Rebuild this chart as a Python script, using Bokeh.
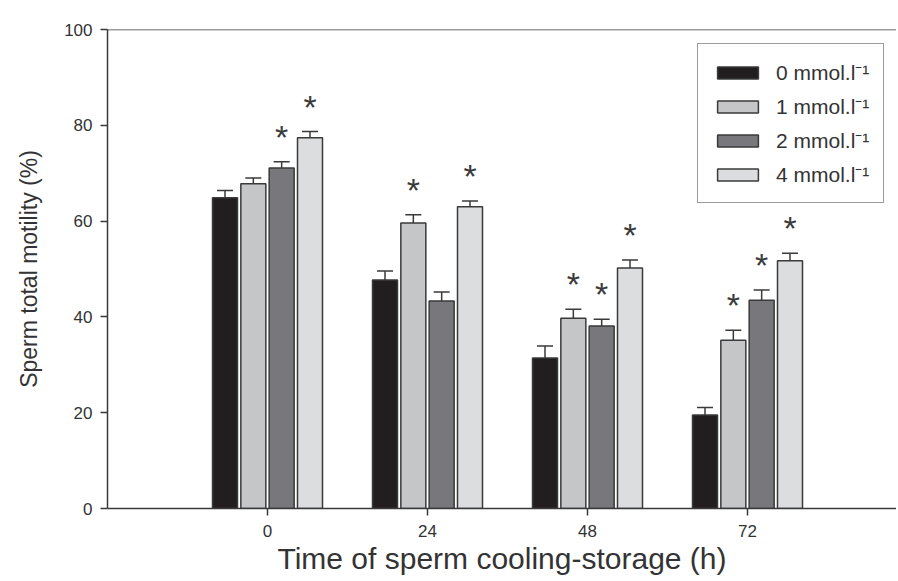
from bokeh.plotting import figure
from bokeh.models import ColumnDataSource, Range1d, Span, Legend, LegendItem, FixedTicker
from bokeh.transform import dodge
from bokeh.embed import file_html
from bokeh.resources import INLINE

# ---- data ----
times = [0, 24, 48, 72]
tick_labels = ["0", "24", "48", "72"]
series_names = ["0 mmol.l\u207b\u00b9", "1 mmol.l\u207b\u00b9", "2 mmol.l\u207b\u00b9", "4 mmol.l\u207b\u00b9"]

mot_0 = [64.9, 47.7, 31.4, 19.5]
err_0 = [1.5, 1.9, 2.5, 1.6]
mot_1 = [67.8, 59.6, 39.7, 35.1]
err_1 = [1.2, 1.7, 1.9, 2.1]
mot_2 = [71.1, 43.3, 38.1, 43.5]
err_2 = [1.3, 1.9, 1.4, 2.1]
mot_4 = [77.4, 63.0, 50.2, 51.7]
err_4 = [1.3, 1.2, 1.7, 1.6]

sig_0 = [False, False, False, False]
sig_1 = [False, True, True, True]
sig_2 = [True, False, True, True]
sig_4 = [True, True, True, True]

# ---- styling ----
fills = ["#221e1f", "#c5c6c8", "#78787c", "#dcdddf"]
edge = "#3a3a3a"
ink = "#333333"
font = "Liberation Sans"
offsets = [-6.375, -2.125, 2.125, 6.375]
bar_w = 3.75
cap_half = 1.2
star_gap = 5.2

p = figure(width=896, height=579, output_backend="svg", toolbar_location=None,
           x_range=Range1d(-24, 94.35), y_range=Range1d(0, 100),
           min_border_left=107, min_border_right=0, min_border_top=29, min_border_bottom=71)
p.outline_line_color = None
p.xgrid.visible = False
p.ygrid.visible = False
p.background_fill_color = "white"

all_vals = [mot_0, mot_1, mot_2, mot_4]
all_errs = [err_0, err_1, err_2, err_4]
all_sigs = [sig_0, sig_1, sig_2, sig_4]

items = []
for k in range(4):
    vals, errs, sigs = all_vals[k], all_errs[k], all_sigs[k]
    tops = [v + e for v, e in zip(vals, errs)]
    src = ColumnDataSource(dict(time=times, val=vals, top=tops))
    r = p.vbar(x=dodge("time", offsets[k]), top="val", bottom=0, width=bar_w, source=src,
               fill_color=fills[k], line_color=edge, line_width=1.5)
    items.append(LegendItem(label=series_names[k], renderers=[r]))
    p.segment(x0=dodge("time", offsets[k]), x1=dodge("time", offsets[k]), y0="val", y1="top",
              source=src, line_color=edge, line_width=1.5)
    p.segment(x0=dodge("time", offsets[k] - cap_half), x1=dodge("time", offsets[k] + cap_half),
              y0="top", y1="top", source=src, line_color=edge, line_width=1.5)
    st = [t for t, s in zip(times, sigs) if s]
    sy = [tp + star_gap for tp, s in zip(tops, sigs) if s]
    if st:
        ssrc = ColumnDataSource(dict(time=st, y=sy, txt=["*"] * len(st)))
        p.text(x=dodge("time", offsets[k]), y="y", text="txt", source=ssrc,
               text_align="center", text_baseline="middle", text_color=edge,
               text_font={"value": font}, text_font_size="34px")

# top frame line
p.add_layout(Span(location=100, dimension="width", line_color=edge, line_width=1.5))

# axes
for ax in (p.xaxis, p.yaxis):
    ax.axis_line_color = edge
    ax.axis_line_width = 1.5
    ax.major_tick_line_color = edge
    ax.major_tick_line_width = 1.5
    ax.major_tick_out = 7
    ax.major_tick_in = 0
    ax.minor_tick_line_color = None
    ax.major_label_text_color = ink
    ax.major_label_text_font = font
    ax.major_label_text_font_size = "17px"

p.xaxis.ticker = FixedTicker(ticks=times)
p.xaxis.major_label_overrides = {t: lab for t, lab in zip(times, tick_labels)}
p.xaxis.major_label_standoff = 9
p.xaxis.axis_label = "Time of sperm cooling-storage (h)"
p.xaxis.axis_label_text_font = font
p.xaxis.axis_label_text_font_size = "30px"
p.xaxis.axis_label_text_font_style = "normal"
p.xaxis.axis_label_text_color = ink
p.xaxis.axis_label_standoff = 2

p.yaxis.ticker = FixedTicker(ticks=[0, 20, 40, 60, 80, 100])
p.yaxis.major_label_standoff = 8
p.yaxis.axis_label = "Sperm total motility (%)"
p.yaxis.axis_label_text_font = font
p.yaxis.axis_label_text_font_size = "23px"
p.yaxis.axis_label_text_font_style = "normal"
p.yaxis.axis_label_text_color = ink
p.yaxis.axis_label_standoff = 19

legend = Legend(items=items, location=(590, 305))
legend.border_line_color = edge
legend.border_line_width = 1.5
legend.background_fill_alpha = 1
legend.padding = 14
legend.margin = 0
legend.spacing = 6
legend.glyph_width = 51
legend.glyph_height = 15
legend.label_height = 20
legend.label_standoff = 13
legend.label_text_font = font
legend.label_text_font_size = "21px"
legend.label_text_color = ink
p.add_layout(legend)

open("out.html", "w").write(file_html(p, INLINE))
